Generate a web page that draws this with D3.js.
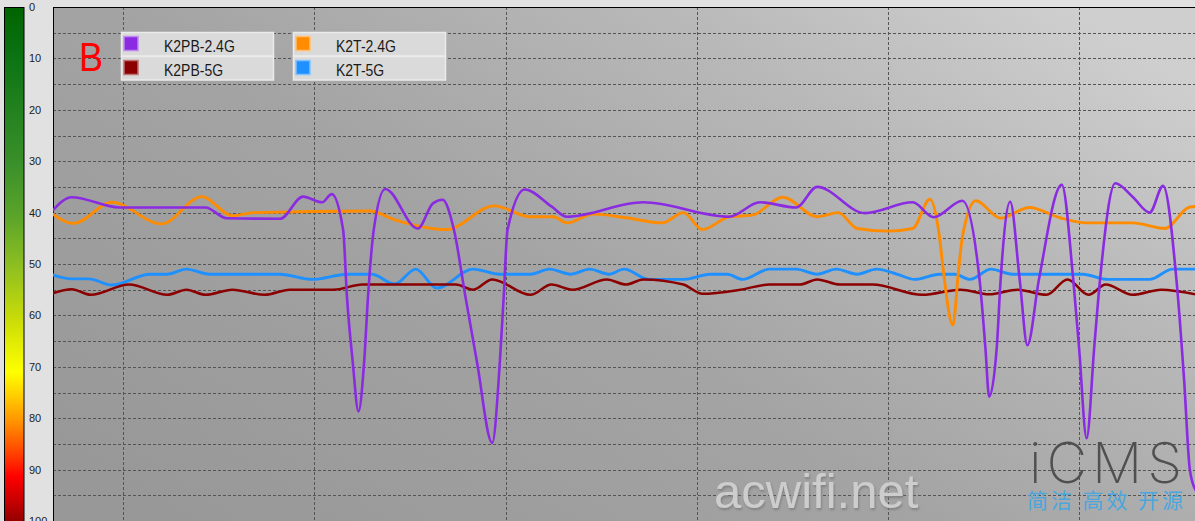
<!DOCTYPE html>
<html><head><meta charset="utf-8">
<script src="https://cdn.jsdelivr.net/npm/d3@7"></script>
<style>html,body{margin:0;padding:0;background:#e1e1e1;overflow:hidden}svg{display:block}</style>
</head><body><svg id="c" width="1195" height="521"></svg>
<script>
// ---------- data ----------
const yTicks = [0,10,20,30,40,50,60,70,80,90,100];
const gridYValues = [5,10,15,20,25,30,35,40,45,50,55,60,65,70,75,80,85,90,95];
const gridXValues = [100,200,300,400,500,600];
const seriesNames = ["K2PB-2.4G","K2PB-5G","K2T-2.4G","K2T-5G"];
const seriesColors = ["#8a2be2","#8b0000","#ff8c00","#1e90ff"];

const k2pb24T = [62,73,98,143,154,182,194,204,209,215,217,220,223,226,228,231,237,254,262,267,273,279,285,293,297,299,301,310,324,332,372,417,433,452,463,488,513,524,539,548,551,553,557,559,564,569,573,579,591,597,600,604,608,611,619,628,637,644,651,655,658,661];
const k2pb24V = [40,37,39,39,41.1,41.2,36.9,38,36.4,43.4,56.4,69,78.7,69,56.4,43.4,35.4,43.1,38.2,37.5,43.4,56.4,69,84.8,69,56.4,43.4,35.5,38.8,40.8,38,40.8,38,39,35,40.1,38,40.9,37.7,53.1,66.1,75.8,66.1,53.1,37.9,53.1,65.8,53.1,34.6,53.1,66.1,83.9,66.1,53.1,34.3,36.9,40,34.8,53.1,72.6,90,94];

const k2pb5T = [62,73,83,103,123,133,143,157,174,187,210,225,274,283,293,313,324,335,353,363,372,393,403,423,438,454,463,475,492,518,538,553,568,583,594,605,614,628,643,662];
const k2pb5V = [55.8,54.9,56,54,56,55,56,55,56,55,55,54,54,55,53,56,54,55,53,54,53,54,55.8,55,54,54,53,54,54,56,55,55.9,55,56,53,56,54,56,55,56];

const k2t24T = [62,74,94,120,141,157,168,229,242,269,294,313,325,332,346,363,382,393,403,417,429,445,463,474,484,500,513,522,527,529,534,537,539,546,559,574,590,604,628,645,658,662];
const k2t24V = [40,42.1,38,42.2,36.9,40.6,40,39.7,41.4,43.3,38.7,40.8,40.8,42,40.3,41,42,40,43.3,40.8,40.5,37,40.8,40,43.1,43.6,43.1,37.4,44.7,51.2,61.9,51.2,44.7,37.7,41.1,39,41,42,42,43.1,38.9,38.8];

const k2t5T = [62,73,82,94,114,123,133,145,182,199,217,230,242,253,264,283,297,313,323,334,344,354,362,375,393,407,416,424,438,452,463,473,484,494,505,514,527,535,543,554,565,602,615,637,649,662];
const k2t5V = [52,52.9,52.9,54.1,52,52,51,52,52,53,52,52,53.9,51,54.7,51,52,52,51,52,51,52,51,53,53,52,52,53,51,51,52,51,52,51,52,53,52,52,53,51,52,52,53,53,51,51];

const seriesT = [k2pb24T, k2pb5T, k2t24T, k2t5T];
const seriesV = [k2pb24V, k2pb5V, k2t24V, k2t5V];
const drawOrder = [3,1,2,0];

// ---------- chart ----------
const svg = d3.select("#c");
const W = 1195, H = 521;
const L = 53, T = 7;
const x = d3.scaleLinear().domain([63.2, 660.7]).range([L, W]);
const y = d3.scaleLinear().domain([0, 100]).range([T, H]);

const defs = svg.append("defs");
const bg = defs.append("linearGradient").attr("id","bg")
  .attr("x1",0).attr("y1",0.85).attr("x2",1).attr("y2",0.15);
[[0,"#989898"],[0.45,"#a4a4a4"],[0.75,"#b8b8b8"],[1,"#cfcfcf"]]
  .forEach(s=>bg.append("stop").attr("offset",s[0]).attr("stop-color",s[1]));
const cb = defs.append("linearGradient").attr("id","cb")
  .attr("x1",0).attr("y1",0).attr("x2",0).attr("y2",1);
[[0,"#006400"],[0.1,"#0d7414"],[0.3,"#3a902a"],[0.4,"#5aa42a"],[0.5,"#90c020"],[0.6,"#cadc08"],[0.7,"#ffff00"],[0.75,"#ffc800"],[0.8,"#ff8c00"],[0.86,"#ff3c00"],[0.9,"#ff0000"],[0.95,"#c40000"],[1,"#800000"]]
  .forEach(s=>cb.append("stop").attr("offset",s[0]).attr("stop-color",s[1]));
defs.append("clipPath").attr("id","clip").append("rect")
  .attr("x",L).attr("y",T).attr("width",W-L).attr("height",H-T);
const sh = defs.append("filter").attr("id","sh").attr("x","-10%").attr("y","-10%").attr("width","120%").attr("height","130%");
sh.append("feDropShadow").attr("dx",1).attr("dy",2).attr("stdDeviation",1).attr("flood-color","#7a7a7a").attr("flood-opacity",0.8);

// colour bar
svg.append("rect").attr("x",4.5).attr("y",y(0)+0.5).attr("width",19.5).attr("height",H)
  .attr("fill","url(#cb)").attr("stroke","#000").attr("stroke-width",1);

// y axis labels
const yAxis = d3.axisRight(y).tickValues(yTicks).tickSize(0).tickPadding(5);
const ya = svg.append("g").attr("transform","translate(24,0)").call(yAxis);
ya.select(".domain").remove();
ya.selectAll("text").attr("font-family","'Liberation Sans',Arial,sans-serif")
  .attr("font-size",11).attr("fill","#222222").attr("dy","0.32em");

// plot background
svg.append("rect").attr("x",L).attr("y",T).attr("width",W-L).attr("height",H-T).attr("fill","url(#bg)");

// grid
const grid = svg.append("g").attr("stroke","#555").attr("stroke-width",1).attr("stroke-dasharray","3,2");
grid.selectAll("line.h").data(gridYValues).join("line").attr("class","h")
  .attr("x1",L).attr("x2",W).attr("y1",d=>Math.round(y(d))+0.5).attr("y2",d=>Math.round(y(d))+0.5);
grid.selectAll("line.v").data(gridXValues).join("line").attr("class","v")
  .attr("y1",T).attr("y2",H).attr("x1",d=>Math.round(x(d))+0.5).attr("x2",d=>Math.round(x(d))+0.5);

// border
svg.append("line").attr("x1",L+0.5).attr("x2",L+0.5).attr("y1",T).attr("y2",H).attr("stroke","#000");
svg.append("line").attr("x1",L).attr("x2",W).attr("y1",T+0.5).attr("y2",T+0.5).attr("stroke","#000");

// lines
const line = d3.line().x(d=>x(d[0])).y(d=>y(d[1])).curve(d3.curveMonotoneX);
const widths = [2.6,2.5,2.9,2.9];
const lg = svg.append("g").attr("clip-path","url(#clip)");
drawOrder.forEach(i=>{
  const pts = seriesT[i].map((t,j)=>[t, seriesV[i][j]]);
  lg.append("path").attr("d",line(pts)).attr("fill","none")
    .attr("stroke",seriesColors[i]).attr("stroke-width",widths[i])
    .attr("stroke-linejoin","round").attr("stroke-linecap","round");
});

// label B
svg.append("text").attr("transform","translate(79,71) scale(1,1.12)").attr("font-family","'Liberation Sans',Arial,sans-serif")
  .attr("font-size",36).attr("fill","#ff0000").text("B");

// legend
const legendBoxes = [[121,32],[293,32]];
seriesNames.forEach((n,i)=>{
  const col = Math.floor(i/2), row = i%2;
  const bx = legendBoxes[col][0], by = legendBoxes[col][1] + row*24;
  const g = svg.append("g").attr("transform",`translate(${bx},${by})`);
  g.append("rect").attr("x",0.5).attr("y",0.5).attr("width",152).attr("height",23.5)
    .attr("fill","#dadada").attr("stroke","#ebebeb").attr("stroke-width",1.5);
  g.append("rect").attr("x",3).attr("y",4.5).attr("width",14).attr("height",14)
    .attr("fill",seriesColors[i]).attr("stroke",d3.interpolateRgb(seriesColors[i],"#ffffff")(0.45)).attr("stroke-width",1.5);
  g.append("text").attr("transform","translate(43,19.5) scale(1,1.15)").attr("font-family","'Liberation Sans',Arial,sans-serif")
    .attr("font-size",14).attr("fill","#1a1a1a").text(n);
});

// watermarks
svg.append("text").attr("x",714).attr("y",508).attr("font-family","'Liberation Sans',Arial,sans-serif")
  .attr("font-size",49).attr("fill","#cdcdcd").attr("filter","url(#sh)").text("acwifi.net");
svg.append("text").attr("x",1029).attr("y",483).attr("font-family","Inter,'Open Sans',sans-serif")
  .attr("font-weight",200).attr("font-size",56).attr("fill","#505050").attr("textLength",153).text("iCMS");
svg.append("text").attr("x",1027).attr("y",508).attr("font-family","'Noto Sans CJK SC',sans-serif")
  .attr("font-size",21).attr("fill","#4ba6de").attr("textLength",156).text("简洁 高效 开源");
</script></body></html>
